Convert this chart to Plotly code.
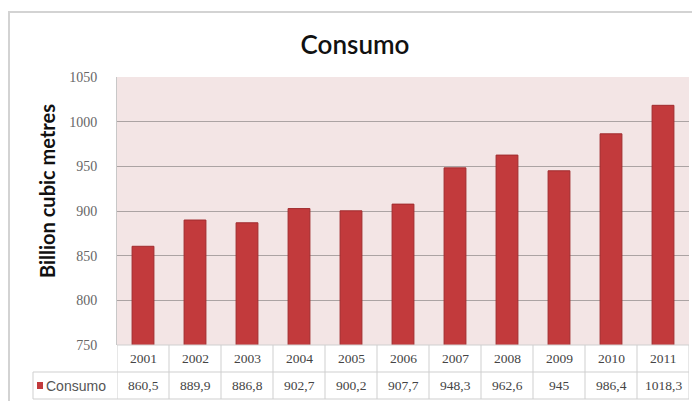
import plotly.graph_objects as go

years = ["2001", "2002", "2003", "2004", "2005", "2006", "2007", "2008", "2009", "2010", "2011"]
consumo = [860.5, 889.9, 886.8, 902.7, 900.2, 907.7, 948.3, 962.6, 945, 986.4, 1018.3]
value_labels = ["860,5", "889,9", "886,8", "902,7", "900,2", "907,7", "948,3", "962,6", "945", "986,4", "1018,3"]
series_name = "Consumo"
y_ticks = [750, 800, 850, 900, 950, 1000, 1050]

# the page body adds an 8px offset; the figure is sized to fit the window
OFF = 8
W, H = 700 - OFF, 401 - OFF
ML, MR, MT, MB = 117 - OFF, 11, 77 - OFF, 56
ph = H - MT - MB
pw = W - ML - MR

def py(pix):  # reference pixel -> paper y
    return (H - MB - (pix - OFF)) / ph

def px(pix):  # reference pixel -> paper x
    return ((pix - OFF) - ML) / pw

bar_color = "#C23A3C"
grid = "#ABA3A3"
cell_line = "#CFCFCF"
tfont = dict(family="Liberation Serif", size=13.5, color="#444444")

fig = go.Figure(go.Bar(
    x=years, y=consumo, name=series_name,
    marker=dict(color=bar_color, line=dict(color="#A02C2E", width=1)),
    showlegend=False,
))

shapes = []
ann = []
r1, r2, r3 = py(345), py(372), py(399)
shapes.append(dict(type="line", xref="paper", yref="paper", x0=0, x1=1, y0=r1, y1=r1, line=dict(color=cell_line, width=1)))
shapes.append(dict(type="line", xref="paper", yref="paper", x0=px(33), x1=1, y0=r2, y1=r2, line=dict(color=cell_line, width=1)))
shapes.append(dict(type="line", xref="paper", yref="paper", x0=px(33), x1=1, y0=r3, y1=r3, line=dict(color=cell_line, width=1)))
for i in range(len(years) + 1):
    shapes.append(dict(type="line", xref="x", yref="paper", x0=i - 0.5, x1=i - 0.5, y0=r1, y1=r3,
                       line=dict(color=cell_line, width=1)))
shapes.append(dict(type="line", xref="paper", yref="paper", x0=px(33), x1=px(33), y0=r2, y1=r3,
                   line=dict(color=cell_line, width=1)))
# legend key square
shapes.append(dict(type="rect", xref="paper", yref="paper", x0=px(37), x1=px(43), y0=py(389), y1=py(382),
                   fillcolor=bar_color, line=dict(width=0)))
# outer chart border (left and top edges visible)
shapes.append(dict(type="rect", xref="paper", yref="paper", x0=px(9), x1=px(710), y0=py(12), y1=py(410),
                   line=dict(color="#D3D3D3", width=2)))

for i, (yr, v) in enumerate(zip(years, value_labels)):
    ann.append(dict(x=i, y=(r1 + r2) / 2, xref="x", yref="paper", text=yr, showarrow=False,
                    xanchor="center", yanchor="middle", font=tfont))
    ann.append(dict(x=i, y=(r2 + r3) / 2, xref="x", yref="paper", text=v, showarrow=False,
                    xanchor="center", yanchor="middle", font=tfont))
ann.append(dict(x=px(44), y=(r2 + r3) / 2, xref="paper", yref="paper", text=series_name, showarrow=False,
                xanchor="left", yanchor="middle", font=dict(family="Liberation Sans", size=14, color="#555555")))
# y-axis title
ann.append(dict(x=px(47), y=py(191), xref="paper", yref="paper", text="<b>Billion cubic metres</b>",
                textangle=-90, showarrow=False, xanchor="center", yanchor="middle",
                font=dict(family="Lato", size=20, color="#111111")))

fig.update_layout(
    width=W, height=H,
    margin=dict(l=ML, r=MR, t=MT, b=MB),
    paper_bgcolor="white",
    plot_bgcolor="#F3E5E5",
    title=dict(text="Consumo", x=(355 - OFF) / W, xref="container", xanchor="center",
               y=1 - (45 - OFF) / H, yanchor="middle",
               font=dict(family="Lato", size=26, color="#111111", weight=600)),
    bargap=0.58,
    xaxis=dict(type="category", range=[-0.5, len(years) - 0.5], showticklabels=False, ticks="",
               showgrid=False, zeroline=False, showline=False),
    yaxis=dict(range=[750, 1050], tickvals=y_ticks, automargin=False,
               showgrid=True, gridcolor=grid, gridwidth=1, zeroline=False,
               showline=True, linecolor="#C8C8C8", ticks="outside", ticklen=16,
               tickcolor="rgba(0,0,0,0)",
               tickfont=dict(family="Liberation Serif", size=14, color="#666666")),
    shapes=shapes,
    annotations=ann,
)

fig.write_html("out.html")
